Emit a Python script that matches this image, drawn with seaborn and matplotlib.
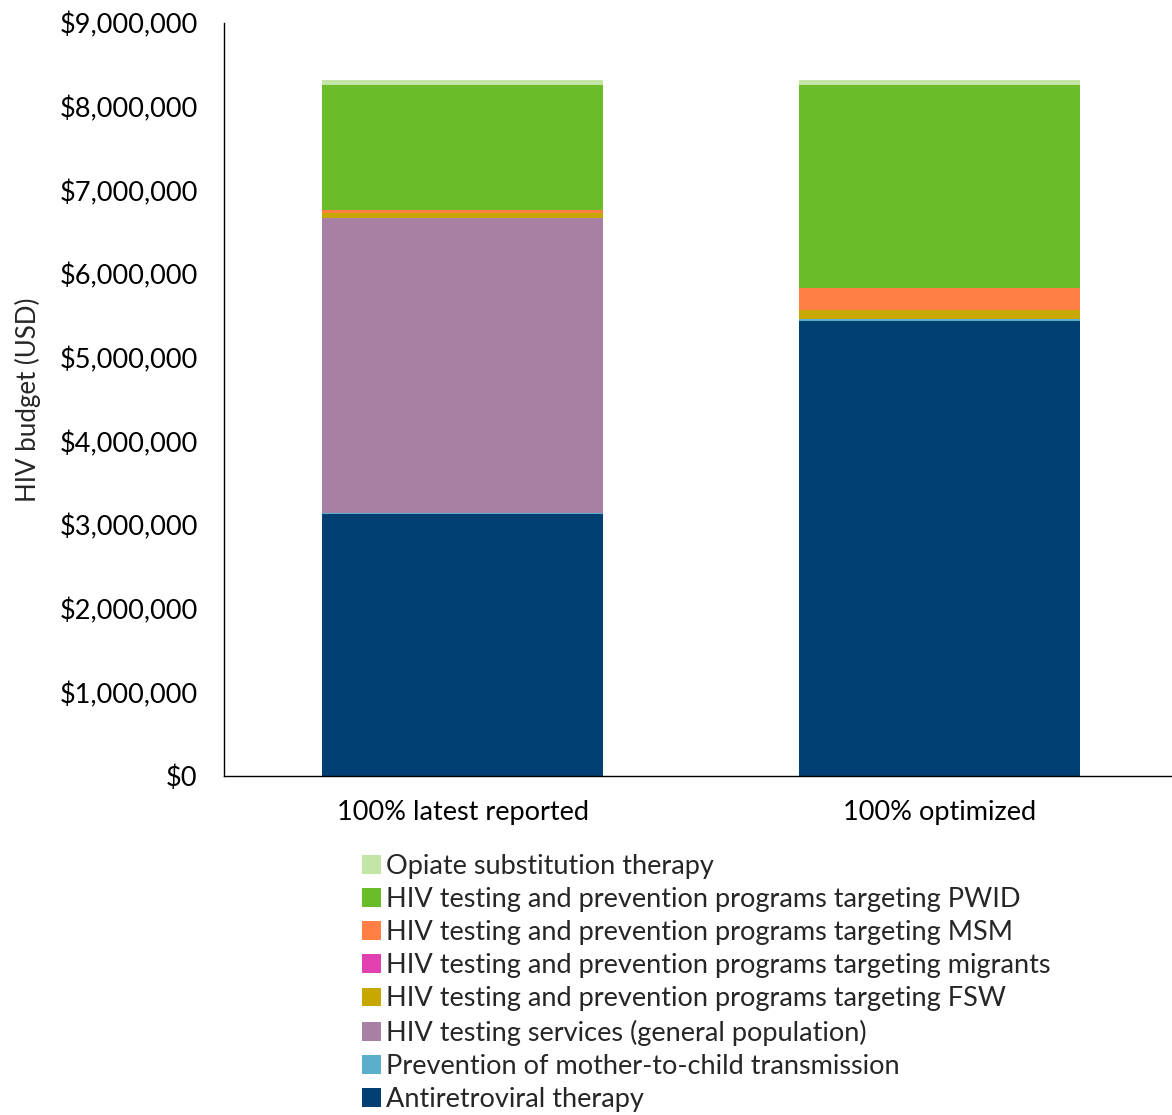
import matplotlib
matplotlib.use("Agg")
import matplotlib.pyplot as plt
import matplotlib.ticker as mticker
from matplotlib.patches import Patch
import numpy as np
import pandas as pd
import seaborn as sns

# Budget scenarios
scenarios = ["100% latest reported", "100% optimized"]

# Programs, bottom of the stack first
programs = [
    "Antiretroviral therapy",
    "Prevention of mother-to-child transmission",
    "HIV testing services (general population)",
    "HIV testing and prevention programs targeting FSW",
    "HIV testing and prevention programs targeting migrants",
    "HIV testing and prevention programs targeting MSM",
    "HIV testing and prevention programs targeting PWID",
    "Opiate substitution therapy",
]

# Spending per program (USD), one value per scenario
art = [3130000, 5438000]
pmtct = [12000, 20000]
hts_general = [3527000, 0]
fsw = [60000, 111000]
migrants = [0, 0]
msm = [40000, 263000]
pwid = [1486000, 2426000]
ost = [60000, 60000]

colors = [
    "#003f72",  # ART
    "#5aafca",  # PMTCT
    "#a880a4",  # HTS general
    "#c8a800",  # FSW
    "#e040b0",  # migrants
    "#ff7f45",  # MSM
    "#6abd29",  # PWID
    "#c3e6a6",  # OST
]

series = [art, pmtct, hts_general, fsw, migrants, msm, pwid, ost]
df = pd.DataFrame({p: v for p, v in zip(programs, series)}, index=scenarios)
cum = df.cumsum(axis=1)

sns.set_theme(style="white")
plt.rcParams["font.family"] = ["Lato", "DejaVu Sans"]

fig = plt.figure(figsize=(11.72, 11.15), dpi=100)
ax = fig.add_axes([224 / 1172, 1 - 776 / 1115, 1 - 224 / 1172, (776 - 23) / 1115])

# Draw the cumulative totals from the top layer down so each lower layer covers the one above
for prog, col in reversed(list(zip(programs, colors))):
    sns.barplot(x=scenarios, y=cum[prog].values, color=col, width=0.589,
                saturation=1, linewidth=0, ax=ax)

ax.set_ylim(0, 9000000)
ax.set_yticks(np.arange(0, 9000001, 1000000))
ax.yaxis.set_major_formatter(mticker.FuncFormatter(lambda v, _: f"${v:,.0f}"))
ax.set_xlim(-0.5, 1.487)
ax.tick_params(axis="both", length=0, labelsize=19.5, colors="black")
ax.tick_params(axis="y", pad=19)
ax.tick_params(axis="x", pad=17)
ax.set_ylabel("HIV budget (USD)", fontsize=18.6)
ax.yaxis.set_label_coords(-0.193, 0.5)
ax.set_xlabel("")
for side in ["top", "right"]:
    ax.spines[side].set_visible(False)
for side in ["left", "bottom"]:
    ax.spines[side].set_color("black")
    ax.spines[side].set_linewidth(1.0)

handles = [Patch(facecolor=c, edgecolor="none", label=p)
           for p, c in reversed(list(zip(programs, colors)))]
fig.legend(handles=handles, loc="upper left", bbox_to_anchor=(343 / 1172, 1 - 835 / 1115),
           frameon=False, fontsize=19.5, handlelength=0.7, handleheight=0.7,
           handletextpad=0.2, labelspacing=0.3, borderpad=0.2)

fig.savefig("out.png", dpi=100)
